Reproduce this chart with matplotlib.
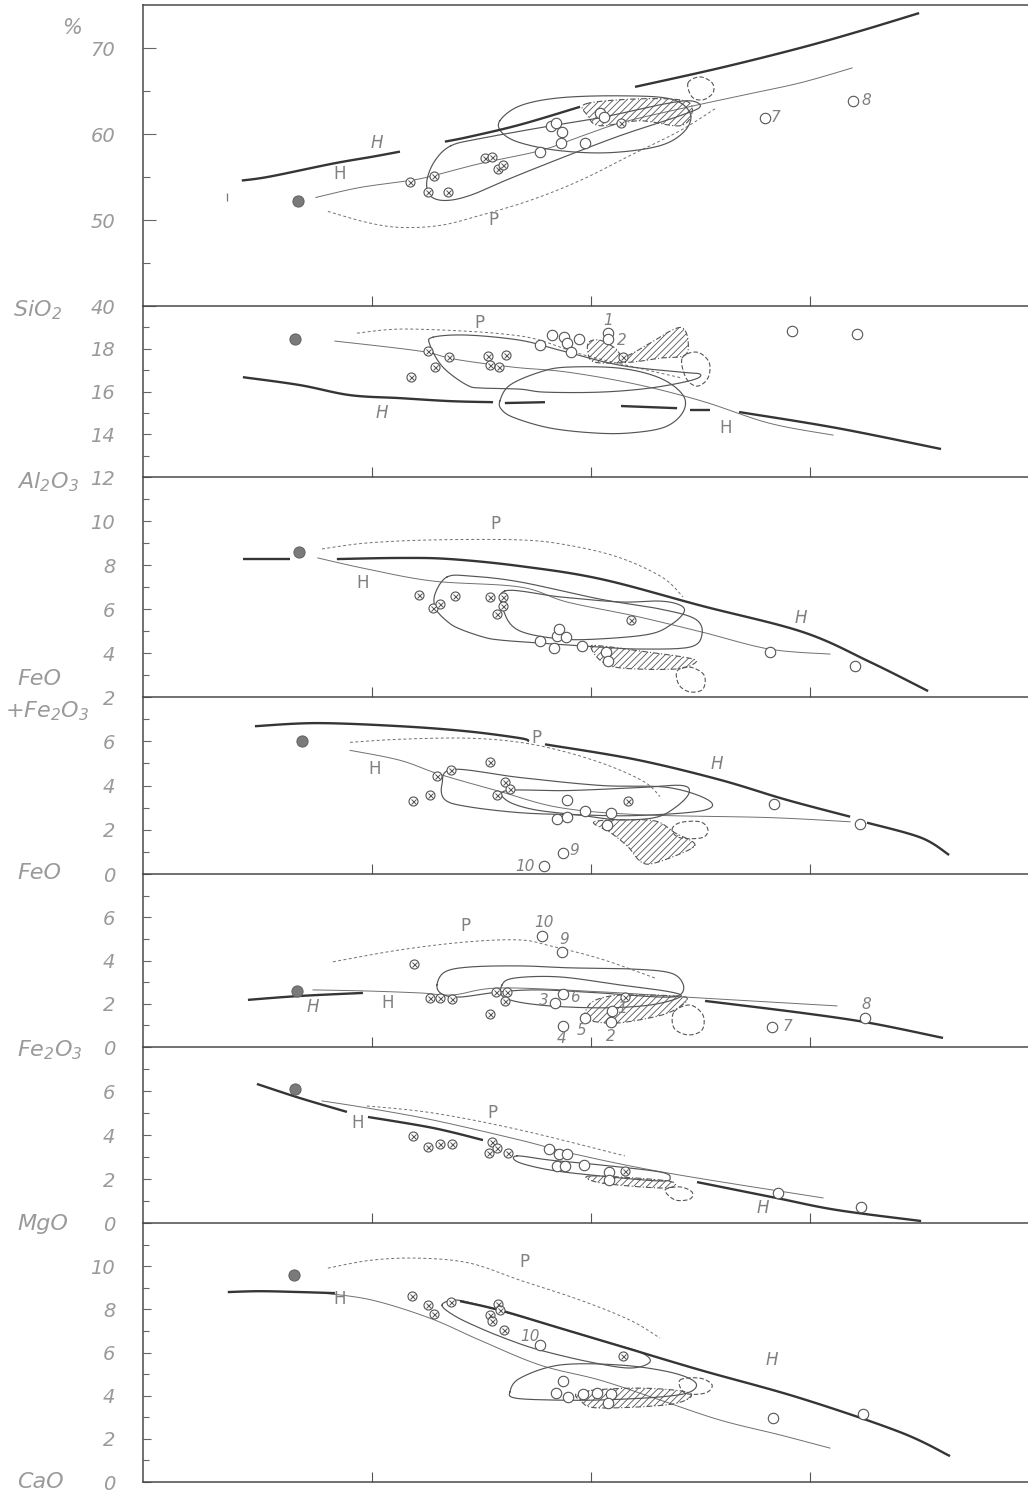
import numpy as np
import matplotlib
matplotlib.use("Agg")
import matplotlib.pyplot as plt
from matplotlib.patches import Polygon

plt.rcParams['font.family'] = ['DejaVu Sans']
plt.rcParams['mathtext.default'] = 'regular'
plt.rcParams['hatch.linewidth'] = 0.6
plt.rcParams['hatch.color'] = '#666666'

# ---------------------------------------------------------------- data
# x = position along the (unlabelled) horizontal axis, ticks at 1, 2, 3
# ---- SiO2 (%)
sio2_thick = [([0.406, 0.534, 0.822, 1.005, 1.128], [54.59, 55.05, 56.56, 57.37, 57.95]),
              ([1.333, 1.447, 1.676, 1.950], [59.11, 59.69, 61.08, 63.16]),
              ([2.201, 2.589, 2.954, 3.228, 3.498], [65.48, 67.68, 70.0, 71.97, 74.06])]
sio2_thin_x = [0.744, 0.945, 1.174, 1.283, 1.493, 1.767, 1.950, 2.137, 2.406, 2.680, 2.954, 3.192]
sio2_thin_y = [52.62, 53.78, 54.59, 55.17, 56.56, 58.06, 59.69, 61.31, 62.93, 64.44, 65.94, 67.68]
sio2_p_x = [0.799, 0.977, 1.128, 1.311, 1.493, 1.721, 1.950, 2.178, 2.406, 2.566]
sio2_p_y = [51.00, 49.72, 49.14, 49.37, 50.53, 52.27, 54.59, 57.49, 60.38, 62.93]
sio2_encl = [([1.361, 1.493, 1.767, 2.041, 2.315, 2.452, 2.498, 2.406, 2.132, 1.858, 1.630, 1.447, 1.333, 1.265, 1.251, 1.288],
              [58.64, 59.46, 60.73, 61.89, 63.40, 63.86, 63.16, 62.12, 59.80, 57.14, 54.82, 52.85, 52.27, 52.85, 54.59, 56.91]),
             ([1.584, 1.676, 1.858, 2.132, 2.361, 2.452, 2.429, 2.315, 2.087, 1.858, 1.676, 1.594],
              [61.54, 63.28, 64.21, 64.44, 64.09, 62.47, 60.38, 58.64, 57.83, 58.06, 58.99, 60.15])]
sio2_hatch_x = [1.977, 2.224, 2.429, 2.461, 2.406, 2.224, 2.041, 1.986]
sio2_hatch_y = [63.51, 64.09, 63.86, 62.47, 60.96, 61.54, 60.96, 62.12]
sio2_loop_x = [2.443, 2.498, 2.553, 2.557, 2.511, 2.461]
sio2_loop_y = [65.94, 66.64, 65.94, 64.79, 63.97, 64.32]
sio2_filled = ([0.662], [52.16])
sio2_cx_x = [1.174, 1.283, 1.256, 1.347, 1.516, 1.548, 1.575, 1.598, 2.137]
sio2_cx_y = [54.47, 55.17, 53.31, 53.31, 57.25, 57.37, 55.98, 56.44, 61.31]
sio2_op_x = [1.767, 1.817, 1.840, 1.868, 1.863, 1.973, 2.041, 2.059, 2.795, 3.196]
sio2_op_y = [57.95, 60.96, 61.31, 60.27, 58.99, 58.99, 62.47, 62.00, 61.89, 63.86]
sio2_text = [(1.023, 58.9, 'H', 'italic'), (0.854, 55.3, 'H', 'normal'), (1.553, 50.0, 'P', 'normal'),
             (2.84, 61.9, '7', 'italic'), (3.256, 63.9, '8', 'italic')]

# ---- Al2O3
al_thick = [([0.411, 0.671, 0.900, 1.128, 1.356, 1.553], [16.67, 16.30, 15.83, 15.69, 15.55, 15.50]),
            ([1.607, 1.790], [15.46, 15.50]),
            ([2.137, 2.393], [15.32, 15.22]),
            ([2.452, 2.543], [15.13, 15.13]),
            ([2.676, 3.123, 3.598], [15.04, 14.29, 13.31])]
al_thin_x = [0.831, 1.219, 1.379, 1.644, 1.890, 2.201, 2.507, 2.813, 3.105]
al_thin_y = [18.36, 17.89, 17.51, 17.14, 16.91, 16.35, 15.55, 14.52, 13.96]
al_p_x = [0.932, 1.128, 1.434, 1.644, 1.767, 1.954, 2.178, 2.416]
al_p_y = [18.73, 18.92, 18.82, 18.64, 18.40, 17.75, 17.19, 16.63]
al_encl = [([1.279, 1.434, 1.676, 1.858, 2.132, 2.406, 2.498, 2.461, 2.269, 2.041, 1.790, 1.676, 1.507, 1.434, 1.324, 1.265],
            [18.54, 18.64, 18.40, 17.93, 17.23, 16.91, 16.81, 16.53, 16.16, 15.97, 15.97, 16.11, 16.16, 16.30, 17.14, 18.17]),
           ([1.584, 1.630, 1.767, 1.890, 2.132, 2.315, 2.420, 2.420, 2.338, 2.178, 2.014, 1.813, 1.653, 1.594],
            [15.55, 16.30, 16.91, 17.14, 17.09, 16.63, 15.83, 15.04, 14.34, 14.06, 14.06, 14.29, 14.76, 15.13])]
al_hatch_x = [1.991, 2.041, 2.110, 2.155, 2.269, 2.370, 2.420, 2.443, 2.429, 2.315, 2.178, 2.018, 1.986]
al_hatch_y = [18.31, 18.40, 18.03, 17.65, 18.26, 18.87, 18.96, 18.40, 17.70, 17.56, 17.37, 17.37, 17.84]
al_loop_x = [2.416, 2.484, 2.539, 2.534, 2.484, 2.434]
al_loop_y = [17.56, 17.84, 17.37, 16.63, 16.25, 16.63]
al_filled = ([0.648], [18.45])
al_cx_x = [1.256, 1.288, 1.178, 1.352, 1.530, 1.539, 1.580, 1.612, 2.146]
al_cx_y = [17.89, 17.14, 16.67, 17.61, 17.65, 17.23, 17.14, 17.70, 17.61]
al_op_x = [1.767, 1.822, 1.877, 1.890, 1.909, 1.945, 2.078, 2.078, 2.918, 3.215]
al_op_y = [18.17, 18.64, 18.54, 18.26, 17.84, 18.45, 18.73, 18.45, 18.82, 18.68]
al_text = [(1.046, 15.0, 'H', 'italic'), (2.616, 14.3, 'H', 'normal'), (1.493, 19.2, 'P', 'normal'),
           (2.078, 19.3, '1', 'italic'), (2.140, 18.4, '2', 'italic')]

# ---- FeO + Fe2O3
ft_thick = [([0.411, 0.626], [8.27, 8.27]),
            ([0.840, 1.128, 1.356, 1.676, 2.046, 2.507, 2.968, 3.274, 3.539],
             [8.27, 8.32, 8.27, 7.95, 7.36, 6.14, 4.95, 3.59, 2.27])]
ft_thin_x = [0.753, 0.977, 1.279, 1.676, 1.890, 2.201, 2.507, 2.813, 3.091]
ft_thin_y = [8.32, 7.82, 7.27, 7.00, 6.32, 5.68, 4.95, 4.18, 3.95]
ft_p_x = [0.772, 0.977, 1.279, 1.676, 1.890, 2.123, 2.324, 2.420]
ft_p_y = [8.73, 9.00, 9.14, 9.14, 8.91, 8.36, 7.45, 6.55]
ft_encl = [([1.342, 1.447, 1.676, 2.041, 2.315, 2.475, 2.507, 2.452, 2.224, 2.041, 1.767, 1.584, 1.507, 1.402, 1.347, 1.292, 1.288],
            [7.45, 7.50, 7.23, 6.45, 6.00, 5.55, 4.86, 4.27, 4.18, 4.27, 4.45, 4.59, 4.73, 5.09, 5.41, 6.00, 6.68]),
           ([1.607, 1.858, 2.132, 2.315, 2.406, 2.425, 2.370, 2.269, 2.041, 1.858, 1.676, 1.607],
            [6.82, 6.55, 6.32, 6.36, 6.18, 5.86, 5.32, 4.86, 4.64, 4.64, 5.00, 5.77])]
ft_hatch_x = [2.000, 2.046, 2.137, 2.384, 2.475, 2.447, 2.224, 2.046]
ft_hatch_y = [4.27, 3.64, 3.32, 3.27, 3.55, 3.77, 4.09, 4.32]
ft_loop_x = [2.393, 2.452, 2.516, 2.511, 2.452, 2.402]
ft_loop_y = [3.18, 3.36, 3.00, 2.36, 2.23, 2.55]
ft_filled = ([0.667], [8.59])
ft_cx_x = [1.215, 1.279, 1.311, 1.379, 1.539, 1.598, 1.598, 1.571, 2.183]
ft_cx_y = [6.64, 6.05, 6.23, 6.59, 6.55, 6.55, 6.14, 5.77, 5.50]
ft_op_x = [1.767, 1.831, 1.845, 1.854, 1.886, 1.959, 2.068, 2.078, 2.817, 3.205]
ft_op_y = [4.55, 4.23, 4.77, 5.09, 4.73, 4.32, 4.05, 3.64, 4.05, 3.41]
ft_text = [(2.959, 5.6, 'H', 'italic'), (0.959, 7.2, 'H', 'normal'), (1.562, 9.85, 'P', 'normal')]

# ---- FeO
fo_thick = [([0.466, 0.749, 1.128, 1.434, 1.676, 1.717], [6.68, 6.82, 6.68, 6.45, 6.14, 6.00]),
            ([1.790, 2.201, 2.584, 2.890, 3.183], [5.86, 5.18, 4.27, 3.36, 2.59]),
            ([3.260, 3.507, 3.635], [2.32, 1.64, 0.86])]
fo_thin_x = [0.900, 1.128, 1.311, 1.584, 1.858, 2.224, 2.813, 3.183]
fo_thin_y = [5.59, 5.14, 4.50, 3.73, 3.00, 2.68, 2.55, 2.36]
fo_p_x = [0.900, 1.128, 1.434, 1.676, 1.890, 2.091, 2.247, 2.315]
fo_p_y = [5.95, 6.09, 6.14, 5.95, 5.50, 4.86, 4.14, 3.50]
fo_encl = [([1.370, 1.676, 2.046, 2.352, 2.539, 2.507, 2.201, 1.922, 1.676, 1.434, 1.333, 1.320],
            [4.73, 4.36, 4.00, 3.91, 3.32, 2.86, 2.64, 2.68, 2.77, 3.05, 3.36, 4.05]),
           ([1.616, 1.890, 2.228, 2.416, 2.447, 2.384, 2.292, 2.123, 1.968, 1.740, 1.616],
            [3.77, 3.77, 3.91, 4.00, 3.64, 3.00, 2.55, 2.45, 2.64, 2.91, 3.32])]
fo_hatch_x = [2.014, 2.091, 2.169, 2.228, 2.292, 2.447, 2.470, 2.384, 2.306, 2.201]
fo_hatch_y = [2.36, 1.86, 1.23, 0.55, 0.50, 1.09, 1.41, 1.86, 2.36, 2.45]
fo_loop_x = [2.370, 2.406, 2.498, 2.534, 2.507, 2.406]
fo_loop_y = [2.00, 2.32, 2.36, 2.00, 1.64, 1.64]
fo_filled = ([0.680], [6.00])
fo_cx_x = [1.187, 1.265, 1.297, 1.361, 1.539, 1.607, 1.630, 1.571, 2.169]
fo_cx_y = [3.32, 3.59, 4.45, 4.68, 5.05, 4.18, 3.82, 3.55, 3.32]
fo_op_x = [1.890, 1.845, 1.890, 1.973, 2.091, 2.073, 2.836, 3.228, 1.872, 1.785]
fo_op_y = [3.36, 2.50, 2.59, 2.86, 2.77, 2.23, 3.18, 2.27, 0.95, 0.36]
fo_text = [(2.575, 4.95, 'H', 'italic'), (1.014, 4.73, 'H', 'normal'), (1.753, 6.15, 'P', 'normal'),
           (1.925, 1.05, '9', 'italic'), (1.70, 0.36, '10', 'italic')]

# ---- Fe2O3
f3_thick = [([0.434, 0.671, 0.959], [2.18, 2.36, 2.50]),
            ([2.521, 2.968, 3.274, 3.607], [2.13, 1.57, 1.11, 0.42])]
f3_thin_x = [0.731, 0.977, 1.219, 1.370, 1.584, 2.046, 2.429, 3.123]
f3_thin_y = [2.64, 2.59, 2.50, 2.41, 2.73, 2.55, 2.31, 1.90]
f3_p_x = [0.822, 1.128, 1.434, 1.676, 1.813, 2.046, 2.292]
f3_p_y = [3.94, 4.49, 4.86, 4.95, 4.68, 4.07, 3.19]
f3_encl = [([1.297, 1.333, 1.447, 1.676, 1.904, 2.178, 2.361, 2.420, 2.406, 2.315, 2.041, 1.767, 1.584, 1.402, 1.320],
            [2.87, 3.47, 3.70, 3.75, 3.66, 3.61, 3.43, 2.92, 2.41, 2.31, 2.50, 2.64, 2.55, 2.31, 2.45]),
           ([1.594, 1.653, 1.858, 2.132, 2.361, 2.406, 2.269, 2.041, 1.767, 1.607],
            [2.87, 3.19, 3.24, 2.87, 2.55, 2.31, 1.94, 1.81, 1.94, 2.27])]
f3_hatch_x = [1.968, 2.000, 2.091, 2.228, 2.384, 2.438, 2.416, 2.324, 2.123, 2.000]
f3_hatch_y = [1.34, 2.04, 2.36, 2.41, 2.36, 2.27, 1.94, 1.48, 1.11, 1.20]
f3_loop_x = [2.379, 2.452, 2.511, 2.507, 2.443, 2.379]
f3_loop_y = [1.62, 1.94, 1.48, 0.79, 0.56, 0.88]
f3_filled = ([0.658], [2.59])
f3_cx_x = [1.192, 1.265, 1.311, 1.365, 1.539, 1.566, 1.616, 1.607, 2.155]
f3_cx_y = [3.84, 2.27, 2.27, 2.22, 1.53, 2.55, 2.55, 2.13, 2.31]
f3_op_x = [1.776, 1.868, 1.872, 1.836, 1.973, 1.872, 2.096, 2.091, 2.826, 3.251]
f3_op_y = [5.14, 4.40, 2.45, 2.04, 1.34, 0.97, 1.67, 1.16, 0.93, 1.34]
f3_text = [(0.731, 1.85, 'H', 'italic'), (1.073, 2.05, 'H', 'normal'), (1.425, 5.6, 'P', 'normal'),
           (1.785, 5.75, '10', 'italic'), (1.880, 4.95, '9', 'italic'), (1.925, 2.30, '6', 'italic'),
           (1.785, 2.15, '3', 'italic'), (1.959, 0.75, '5', 'italic'), (1.868, 0.40, '4', 'italic'),
           (2.140, 1.80, '1', 'italic'), (2.091, 0.50, '2', 'italic'), (2.895, 0.93, '7', 'italic'),
           (3.256, 1.95, '8', 'italic')]

# ---- MgO
mg_thick = [([0.475, 0.671, 0.886], [6.32, 5.68, 5.05]),
            ([0.982, 1.279, 1.507], [4.82, 4.32, 3.77]),
            ([2.484, 2.845, 3.123, 3.507], [1.86, 1.14, 0.59, 0.09])]
mg_thin_x = [0.772, 0.977, 1.279, 1.676, 1.922, 2.352, 3.059]
mg_thin_y = [5.55, 5.23, 4.68, 3.77, 3.14, 2.27, 1.14]
mg_p_x = [0.977, 1.279, 1.676, 2.155]
mg_p_y = [5.32, 5.00, 4.23, 3.05]
mg_encl = [([1.662, 1.813, 2.041, 2.315, 2.361, 2.315, 2.041, 1.813, 1.667],
            [3.05, 2.86, 2.64, 2.32, 2.05, 1.91, 2.14, 2.41, 2.77])]
mg_hatch_x = [2.000, 2.352, 2.338, 2.046]
mg_hatch_y = [2.14, 1.91, 1.59, 1.82]
mg_loop_x = [2.338, 2.406, 2.461, 2.452, 2.384]
mg_loop_y = [1.50, 1.64, 1.41, 1.09, 1.05]
mg_filled = ([0.648], [6.09])
mg_cx_x = [1.187, 1.256, 1.311, 1.365, 1.548, 1.571, 1.534, 1.621, 2.155]
mg_cx_y = [3.95, 3.45, 3.59, 3.59, 3.68, 3.41, 3.18, 3.18, 2.36]
mg_op_x = [1.808, 1.854, 1.890, 1.845, 1.881, 1.968, 2.082, 2.082, 2.854, 3.233]
mg_op_y = [3.36, 3.14, 3.14, 2.59, 2.59, 2.64, 2.32, 1.95, 1.36, 0.73]
mg_text = [(1.548, 5.0, 'P', 'normal'), (0.936, 4.55, 'H', 'normal'), (2.785, 0.7, 'H', 'italic')]

# ---- CaO
ca_thick = [([0.342, 0.489, 0.671, 0.831], [8.80, 8.84, 8.80, 8.75]),
            ([1.402, 1.584, 1.858, 2.132, 2.498, 2.954, 3.411, 3.639],
             [8.38, 7.96, 7.13, 6.30, 5.19, 3.89, 2.31, 1.20])]
ca_thin_x = [0.781, 1.000, 1.265, 1.493, 1.767, 2.041, 2.315, 2.589, 2.863, 3.091]
ca_thin_y = [8.75, 8.43, 7.59, 6.57, 5.42, 4.72, 3.80, 2.87, 2.18, 1.57]
ca_p_x = [0.799, 1.000, 1.219, 1.447, 1.676, 1.950, 2.178, 2.315]
ca_p_y = [9.91, 10.28, 10.37, 10.14, 9.35, 8.43, 7.50, 6.67]
ca_encl = [([1.320, 1.379, 1.493, 1.767, 2.041, 2.224, 2.269, 2.178, 1.995, 1.767, 1.630, 1.493, 1.379],
            [8.19, 8.43, 8.19, 7.41, 6.57, 6.02, 5.56, 5.28, 5.56, 6.11, 6.57, 7.13, 7.69]),
           ([1.630, 1.676, 1.858, 2.132, 2.361, 2.475, 2.452, 2.315, 2.041, 1.813, 1.653],
            [4.17, 4.81, 5.42, 5.42, 5.09, 4.63, 4.17, 3.94, 3.80, 3.80, 3.89])]
ca_hatch_x = [1.950, 2.224, 2.452, 2.370, 2.041, 1.959]
ca_hatch_y = [4.17, 4.35, 4.12, 3.61, 3.43, 3.70]
ca_loop_x = [2.406, 2.498, 2.553, 2.521, 2.429]
ca_loop_y = [4.72, 4.81, 4.49, 4.12, 4.12]
ca_filled = ([0.644], [9.58])
ca_cx_x = [1.183, 1.256, 1.283, 1.361, 1.539, 1.575, 1.584, 1.548, 1.603, 2.146]
ca_cx_y = [8.61, 8.19, 7.78, 8.33, 7.73, 8.24, 7.96, 7.45, 7.04, 5.83]
ca_op_x = [1.767, 1.872, 1.840, 1.895, 1.963, 2.027, 2.091, 2.078, 2.831, 3.242]
ca_op_y = [6.34, 4.68, 4.12, 3.94, 4.07, 4.12, 4.07, 3.66, 2.96, 3.15]
ca_text = [(1.72, 6.75, '10', 'italic'), (1.694, 10.2, 'P', 'normal'), (0.854, 8.5, 'H', 'normal'),
           (2.826, 5.65, 'H', 'italic')]

# axis ranges and labels
ylims = [(40, 75), (12, 20), (2, 12), (0, 8), (0, 8), (0, 8), (0, 12)]
major_ticks = [[40, 50, 60, 70], [12, 14, 16, 18], [2, 4, 6, 8, 10], [0, 2, 4, 6],
               [0, 2, 4, 6], [0, 2, 4, 6], [0, 2, 4, 6, 8, 10]]
minor_ticks = [[45, 55, 65], [13, 15, 17, 19], [3, 5, 7, 9, 11], [1, 3, 5, 7],
               [1, 3, 5, 7], [1, 3, 5, 7], [1, 3, 5, 7, 9, 11]]
x_ticks = [1, 2, 3]
oxide_labels = [('%', 62, 28), ('SiO$_2$', 13, 310), ('Al$_2$O$_3$', 17, 482), ('FeO', 17, 679),
                ('+Fe$_2$O$_3$', 5, 711), ('FeO', 17, 873), ('Fe$_2$O$_3$', 17, 1050),
                ('MgO', 17, 1224), ('CaO', 17, 1482)]

# ---------------------------------------------------------------- helpers
def catmull(xs, ys, closed=False, n=14):
    P = np.column_stack([xs, ys]).astype(float)
    if closed:
        Q = np.vstack([P[-1], P, P[0], P[1]])
    else:
        Q = np.vstack([P[0], P, P[-1]])
    out = []
    t = np.linspace(0, 1, n, endpoint=False)[:, None]
    for i in range(1, len(Q) - 2):
        p0, p1, p2, p3 = Q[i - 1], Q[i], Q[i + 1], Q[i + 2]
        c = 0.5 * ((2 * p1) + (-p0 + p2) * t + (2 * p0 - 5 * p1 + 4 * p2 - p3) * t ** 2
                   + (-p0 + 3 * p1 - 3 * p2 + p3) * t ** 3)
        out.append(c)
    out = np.vstack(out)
    if closed:
        out = np.vstack([out, out[:1]])
    else:
        out = np.vstack([out, P[-1:]])
    return out[:, 0], out[:, 1]


DARK = '#353535'
MID = '#555555'
LIGHT = '#707070'
TXT = '#9a9a9a'


def draw_panel(ax, thick, thin_x, thin_y, p_x, p_y, encl, hatch_x, hatch_y, loop_x, loop_y,
               filled, cx_x, cx_y, op_x, op_y, texts):
    for sx, sy in thick:
        X, Y = catmull(sx, sy)
        ax.plot(X, Y, color=DARK, lw=1.7, solid_capstyle='butt', zorder=3)
    X, Y = catmull(thin_x, thin_y)
    ax.plot(X, Y, color=LIGHT, lw=0.7, zorder=2)
    X, Y = catmull(p_x, p_y)
    ax.plot(X, Y, color=LIGHT, lw=0.7, ls=(0, (3, 2.5)), zorder=2)
    for ex, ey in encl:
        X, Y = catmull(ex, ey, closed=True)
        ax.plot(X, Y, color=MID, lw=0.85, zorder=2)
    X, Y = catmull(hatch_x, hatch_y, closed=True)
    ax.add_patch(Polygon(np.column_stack([X, Y]), closed=True, fill=False, hatch='/////',
                         edgecolor=MID, lw=0.8, ls=(0, (5, 2, 1, 2)), zorder=2))
    X, Y = catmull(loop_x, loop_y, closed=True)
    ax.plot(X, Y, color=MID, lw=0.8, ls=(0, (4, 2)), zorder=2)
    ax.plot(filled[0], filled[1], 'o', ms=8, mfc='#7a7a7a', mec='#666666', mew=0.8, zorder=5)
    ax.plot(cx_x, cx_y, 'o', ms=6.5, mfc='white', mec=MID, mew=0.8, zorder=5)
    ax.plot(cx_x, cx_y, 'x', ms=3.6, color=MID, mew=0.7, zorder=6)
    ax.plot(op_x, op_y, 'o', ms=7.5, mfc='white', mec=MID, mew=0.8, zorder=5)
    for tx, ty, s, st in texts:
        ax.text(tx, ty, s, fontsize=12 if s in ('H', 'P') else 11, style=st, color='#808080',
                ha='center', va='center', zorder=7)


# ---------------------------------------------------------------- figure
fig = plt.figure(figsize=(10.28, 14.94), dpi=100)
fig.patch.set_facecolor('white')
gs = fig.add_gridspec(7, 1, left=143 / 1028, right=1.0, top=1 - 5 / 1494, bottom=1 - 1482 / 1494,
                      hspace=0, height_ratios=[301, 171, 220, 177, 173, 176, 259])
axes = [fig.add_subplot(gs[i]) for i in range(7)]

panels = [
    (sio2_thick, sio2_thin_x, sio2_thin_y, sio2_p_x, sio2_p_y, sio2_encl, sio2_hatch_x, sio2_hatch_y,
     sio2_loop_x, sio2_loop_y, sio2_filled, sio2_cx_x, sio2_cx_y, sio2_op_x, sio2_op_y, sio2_text),
    (al_thick, al_thin_x, al_thin_y, al_p_x, al_p_y, al_encl, al_hatch_x, al_hatch_y,
     al_loop_x, al_loop_y, al_filled, al_cx_x, al_cx_y, al_op_x, al_op_y, al_text),
    (ft_thick, ft_thin_x, ft_thin_y, ft_p_x, ft_p_y, ft_encl, ft_hatch_x, ft_hatch_y,
     ft_loop_x, ft_loop_y, ft_filled, ft_cx_x, ft_cx_y, ft_op_x, ft_op_y, ft_text),
    (fo_thick, fo_thin_x, fo_thin_y, fo_p_x, fo_p_y, fo_encl, fo_hatch_x, fo_hatch_y,
     fo_loop_x, fo_loop_y, fo_filled, fo_cx_x, fo_cx_y, fo_op_x, fo_op_y, fo_text),
    (f3_thick, f3_thin_x, f3_thin_y, f3_p_x, f3_p_y, f3_encl, f3_hatch_x, f3_hatch_y,
     f3_loop_x, f3_loop_y, f3_filled, f3_cx_x, f3_cx_y, f3_op_x, f3_op_y, f3_text),
    (mg_thick, mg_thin_x, mg_thin_y, mg_p_x, mg_p_y, mg_encl, mg_hatch_x, mg_hatch_y,
     mg_loop_x, mg_loop_y, mg_filled, mg_cx_x, mg_cx_y, mg_op_x, mg_op_y, mg_text),
    (ca_thick, ca_thin_x, ca_thin_y, ca_p_x, ca_p_y, ca_encl, ca_hatch_x, ca_hatch_y,
     ca_loop_x, ca_loop_y, ca_filled, ca_cx_x, ca_cx_y, ca_op_x, ca_op_y, ca_text),
]

for i, ax in enumerate(axes):
    ax.patch.set_alpha(0)
    draw_panel(ax, *panels[i])
    ax.set_xlim(-0.045, 3.995)
    ax.set_ylim(*ylims[i])
    ax.set_xticks(x_ticks)
    ax.set_xticklabels([])
    ax.set_yticks(major_ticks[i])
    ax.set_yticks(minor_ticks[i], minor=True)
    ax.set_yticklabels([str(v) for v in major_ticks[i]], fontsize=14, style='italic',
                       color=TXT, fontweight='light')
    big = 9.5 if i == 0 else 6
    small = 5 if i == 0 else 4.5
    ax.tick_params(axis='y', which='major', direction='in', length=big, width=0.8, color='#666666', pad=20)
    ax.tick_params(axis='y', which='minor', direction='in', length=small, width=0.8, color='#666666')
    ax.tick_params(axis='x', which='major', direction='in', length=7, width=0.8, color='#555555')
    ax.spines['right'].set_visible(False)
    ax.spines['left'].set_color('#4a4a4a')
    ax.spines['left'].set_linewidth(1.1)
    for s in ('top', 'bottom'):
        ax.spines[s].set_color('#4a4a4a')
        ax.spines[s].set_linewidth(1.1)
        ax.spines[s].set_zorder(10)
    if i > 0:
        ax.spines['top'].set_visible(False)

# SiO2 panel: small vertical stroke left of the basalt point
axes[0].plot([0.338], [52.73], marker='|', ms=6, color='#777777', mew=0.9)

for s, px, py in oxide_labels:
    fig.text(px / 1028, 1 - py / 1494, s, fontsize=16 if s != '%' else 15, style='italic',
             color=TXT, ha='left', va='center', fontweight='light')

fig.savefig('out.png', dpi=100, facecolor='white')
